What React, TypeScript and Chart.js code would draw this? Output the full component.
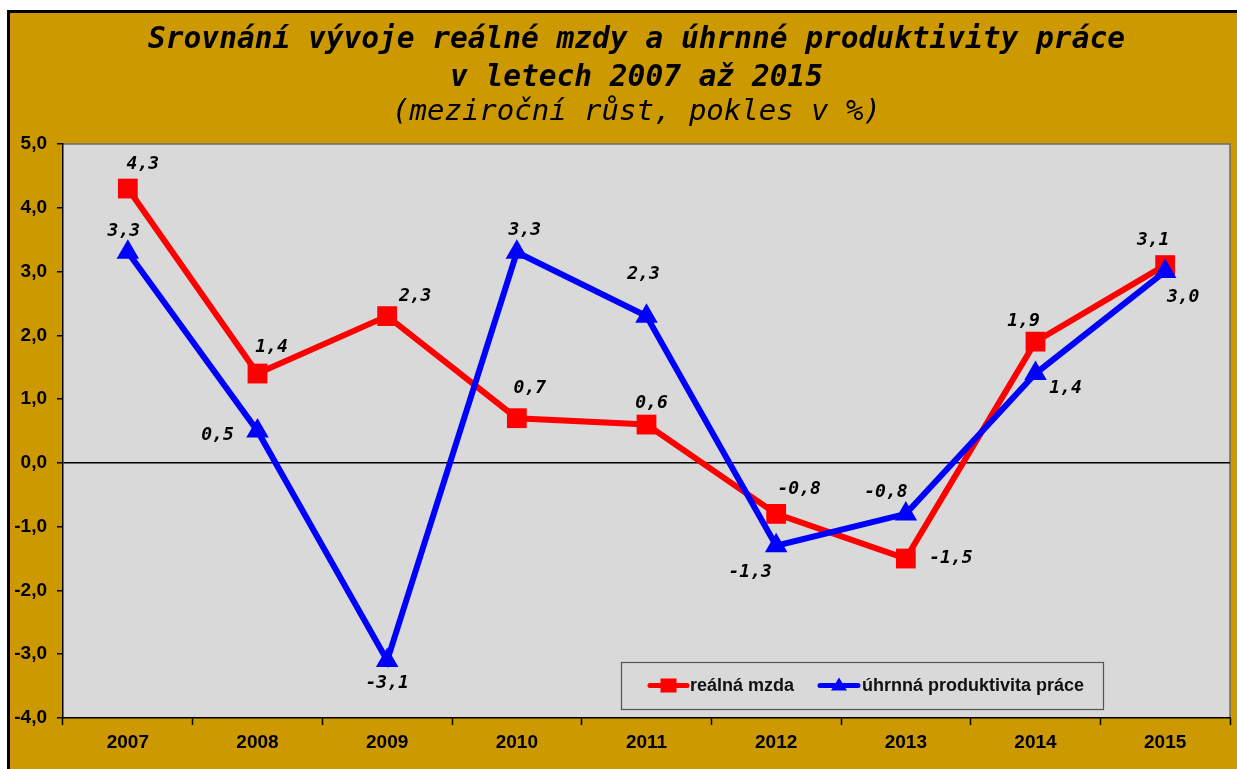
import React, { useEffect, useRef } from 'react';
import { Chart, registerables } from 'chart.js';

Chart.register(...registerables);

// ---- data ----
const YEARS = ['2007', '2008', '2009', '2010', '2011', '2012', '2013', '2014', '2015'];
const REAL_WAGE = [4.3, 1.4, 2.3, 0.7, 0.6, -0.8, -1.5, 1.9, 3.1];
const PRODUCTIVITY = [3.3, 0.5, -3.1, 3.3, 2.3, -1.3, -0.8, 1.4, 3.0];
const SERIES_NAMES = ['reálná mzda', 'úhrnná produktivita práce'];
const Y_MIN = -4;
const Y_MAX = 5;
const Y_STEP = 1;
const TITLE_LINES = ['Srovnání vývoje reálné mzdy a úhrnné produktivity práce', 'v letech 2007 až 2015'];
const SUBTITLE = '(meziroční růst, pokles v %)';

// ---- label placement (style, px offsets from the point) ----
const WAGE_LABEL_OFFSETS = [[15, -24], [14, -26], [28, -20], [13, -30], [5, -21], [23, -25], [45, 0], [-12, -20], [-12, -25]];
const PROD_LABEL_OFFSETS = [[-4, -21], [-40, 4], [0, 23], [8, -22], [-3, -42], [-26, 27], [-20, -22], [30, 15], [18, 26]];

const MONO = '"DejaVu Sans Mono", monospace';
const SANS = '"Liberation Sans", Arial, sans-serif';
const fmt = (v: number) => v.toFixed(1).replace('.', ',');

const bgPlugin = {
  id: 'plotBg',
  beforeDraw(chart: any) {
    const { ctx, chartArea: a } = chart;
    ctx.save();
    ctx.fillStyle = '#D9D9D9';
    ctx.fillRect(a.left, a.top, a.right - a.left, a.bottom - a.top);
    ctx.strokeStyle = '#6b6b6b';
    ctx.lineWidth = 1.5;
    ctx.beginPath();
    ctx.moveTo(a.left, a.top);
    ctx.lineTo(a.right, a.top);
    ctx.lineTo(a.right, a.bottom);
    ctx.stroke();
    ctx.restore();
  },
};

const labelPlugin = {
  id: 'valueLabels',
  afterDatasetsDraw(chart: any) {
    const { ctx } = chart;
    const offsets = [WAGE_LABEL_OFFSETS, PROD_LABEL_OFFSETS];
    ctx.save();
    ctx.font = `italic bold 18px ${MONO}`;
    ctx.fillStyle = '#000';
    ctx.textAlign = 'center';
    ctx.textBaseline = 'middle';
    chart.data.datasets.forEach((ds: any, di: number) => {
      const meta = chart.getDatasetMeta(di);
      meta.data.forEach((pt: any, i: number) => {
        const [dx, dy] = offsets[di][i];
        ctx.fillText(fmt(ds.data[i]), pt.x + dx, pt.y + dy);
      });
    });
    ctx.restore();
  },
};

const legendPlugin = {
  id: 'boxLegend',
  afterDraw(chart: any) {
    const { ctx, chartArea: a } = chart;
    const bx = a.right - 609;
    const by = a.bottom - 56;
    const bw = 482;
    const bh = 47;
    ctx.save();
    ctx.fillStyle = '#D9D9D9';
    ctx.fillRect(bx, by, bw, bh);
    ctx.strokeStyle = '#555';
    ctx.lineWidth = 1.2;
    ctx.strokeRect(bx + 0.5, by + 0.5, bw, bh);
    const cy = by + 23.5;
    const items = [
      { x0: 29, x1: 66, tx: 69 },
      { x0: 199, x1: 237, tx: 241 },
    ];
    chart.data.datasets.forEach((ds: any, di: number) => {
      const it = items[di];
      const col = ds.borderColor;
      ctx.strokeStyle = col;
      ctx.lineWidth = 5;
      ctx.lineCap = 'round';
      ctx.beginPath();
      ctx.moveTo(bx + it.x0, cy);
      ctx.lineTo(bx + it.x1, cy);
      ctx.stroke();
      const mx = bx + (it.x0 + it.x1) / 2;
      ctx.fillStyle = col;
      if (ds.pointStyle === 'rect') {
        ctx.fillRect(mx - 8, cy - 7, 16, 14);
      } else {
        ctx.beginPath();
        ctx.moveTo(mx, cy - 8);
        ctx.lineTo(mx + 8, cy + 5);
        ctx.lineTo(mx - 8, cy + 5);
        ctx.closePath();
        ctx.fill();
      }
      ctx.fillStyle = '#111';
      ctx.font = `bold 18px ${SANS}`;
      ctx.textAlign = 'left';
      ctx.textBaseline = 'middle';
      ctx.fillText(ds.label, bx + it.tx, cy + 1);
    });
    ctx.restore();
  },
};

export default function App() {
  const ref = useRef<HTMLCanvasElement>(null);
  useEffect(() => {
    document.body.style.overflow = 'hidden';
    const chart = new Chart(ref.current as HTMLCanvasElement, {
      type: 'line',
      data: {
        labels: YEARS,
        datasets: [
          {
            label: SERIES_NAMES[0],
            data: REAL_WAGE,
            borderColor: '#FF0000',
            backgroundColor: '#FF0000',
            borderWidth: 6,
            pointStyle: 'rect',
            pointRadius: 14,
            pointBorderWidth: 0,
            pointBackgroundColor: '#FF0000',
            tension: 0,
            order: 1,
            yAxisID: 'y',
          },
          {
            label: SERIES_NAMES[1],
            data: PRODUCTIVITY,
            borderColor: '#0000FF',
            backgroundColor: '#0000FF',
            borderWidth: 6,
            pointStyle: 'triangle',
            pointRadius: 13,
            pointBorderWidth: 0,
            pointBackgroundColor: '#0000FF',
            tension: 0,
            order: 0,
            yAxisID: 'y',
          },
        ],
      },
      options: {
        responsive: false,
        animation: false,
        devicePixelRatio: 1,
        layout: { padding: 0 },
        scales: {
          x: {
            offset: true,
            grid: { offset: true, drawOnChartArea: false, color: '#000', tickLength: 7, tickWidth: 1.5 },
            border: { color: '#000', width: 1.5 },
            ticks: { color: '#000', font: { family: SANS, size: 19, weight: 'bold' }, padding: 6, maxRotation: 0 },
            afterFit(s: any) { s.height = 51; },
          },
          y: {
            min: Y_MIN,
            max: Y_MAX,
            ticks: {
              stepSize: Y_STEP,
              color: '#000',
              padding: 10,
              font: { family: SANS, size: 19, weight: 'bold' },
              callback: (v: any) => fmt(Number(v)),
            },
            grid: {
              color: (c: any) => (c.tick && c.tick.value === 0 ? '#000' : 'rgba(0,0,0,0)'),
              lineWidth: 1.5,
              tickColor: '#000',
              tickWidth: 1.5,
              tickLength: 6,
            },
            border: { color: '#000', width: 1.5 },
            afterFit(s: any) { s.width = 53; },
          },
          yR: {
            position: 'right',
            display: true,
            grid: { display: false, drawTicks: false },
            border: { display: false },
            ticks: { display: false },
            afterFit(s: any) { s.width = 33; },
          },
        },
        plugins: {
          legend: { display: false },
          tooltip: { enabled: false },
          title: {
            display: true,
            text: TITLE_LINES,
            color: '#000',
            font: { family: MONO, size: 29.5, weight: 'bold', style: 'italic', lineHeight: 38 / 29.5 },
            padding: { top: 8, bottom: 0 },
          },
          subtitle: {
            display: true,
            text: SUBTITLE,
            color: '#000',
            font: { family: MONO, size: 29, weight: 'normal', style: 'italic', lineHeight: 1.1 },
            padding: { top: 0, bottom: 15 },
          },
        },
      } as any,
      plugins: [bgPlugin, labelPlugin, legendPlugin],
    });
    return () => chart.destroy();
  }, []);

  return (
    <div
      style={{
        position: 'fixed',
        left: 7,
        top: 10,
        width: 1253,
        height: 760,
        borderLeft: '3px solid #000',
        borderTop: '3px solid #000',
        background: '#CC9900',
      }}
    >
      <canvas ref={ref} width={1253} height={756} style={{ display: 'block' }} />
    </div>
  );
}
